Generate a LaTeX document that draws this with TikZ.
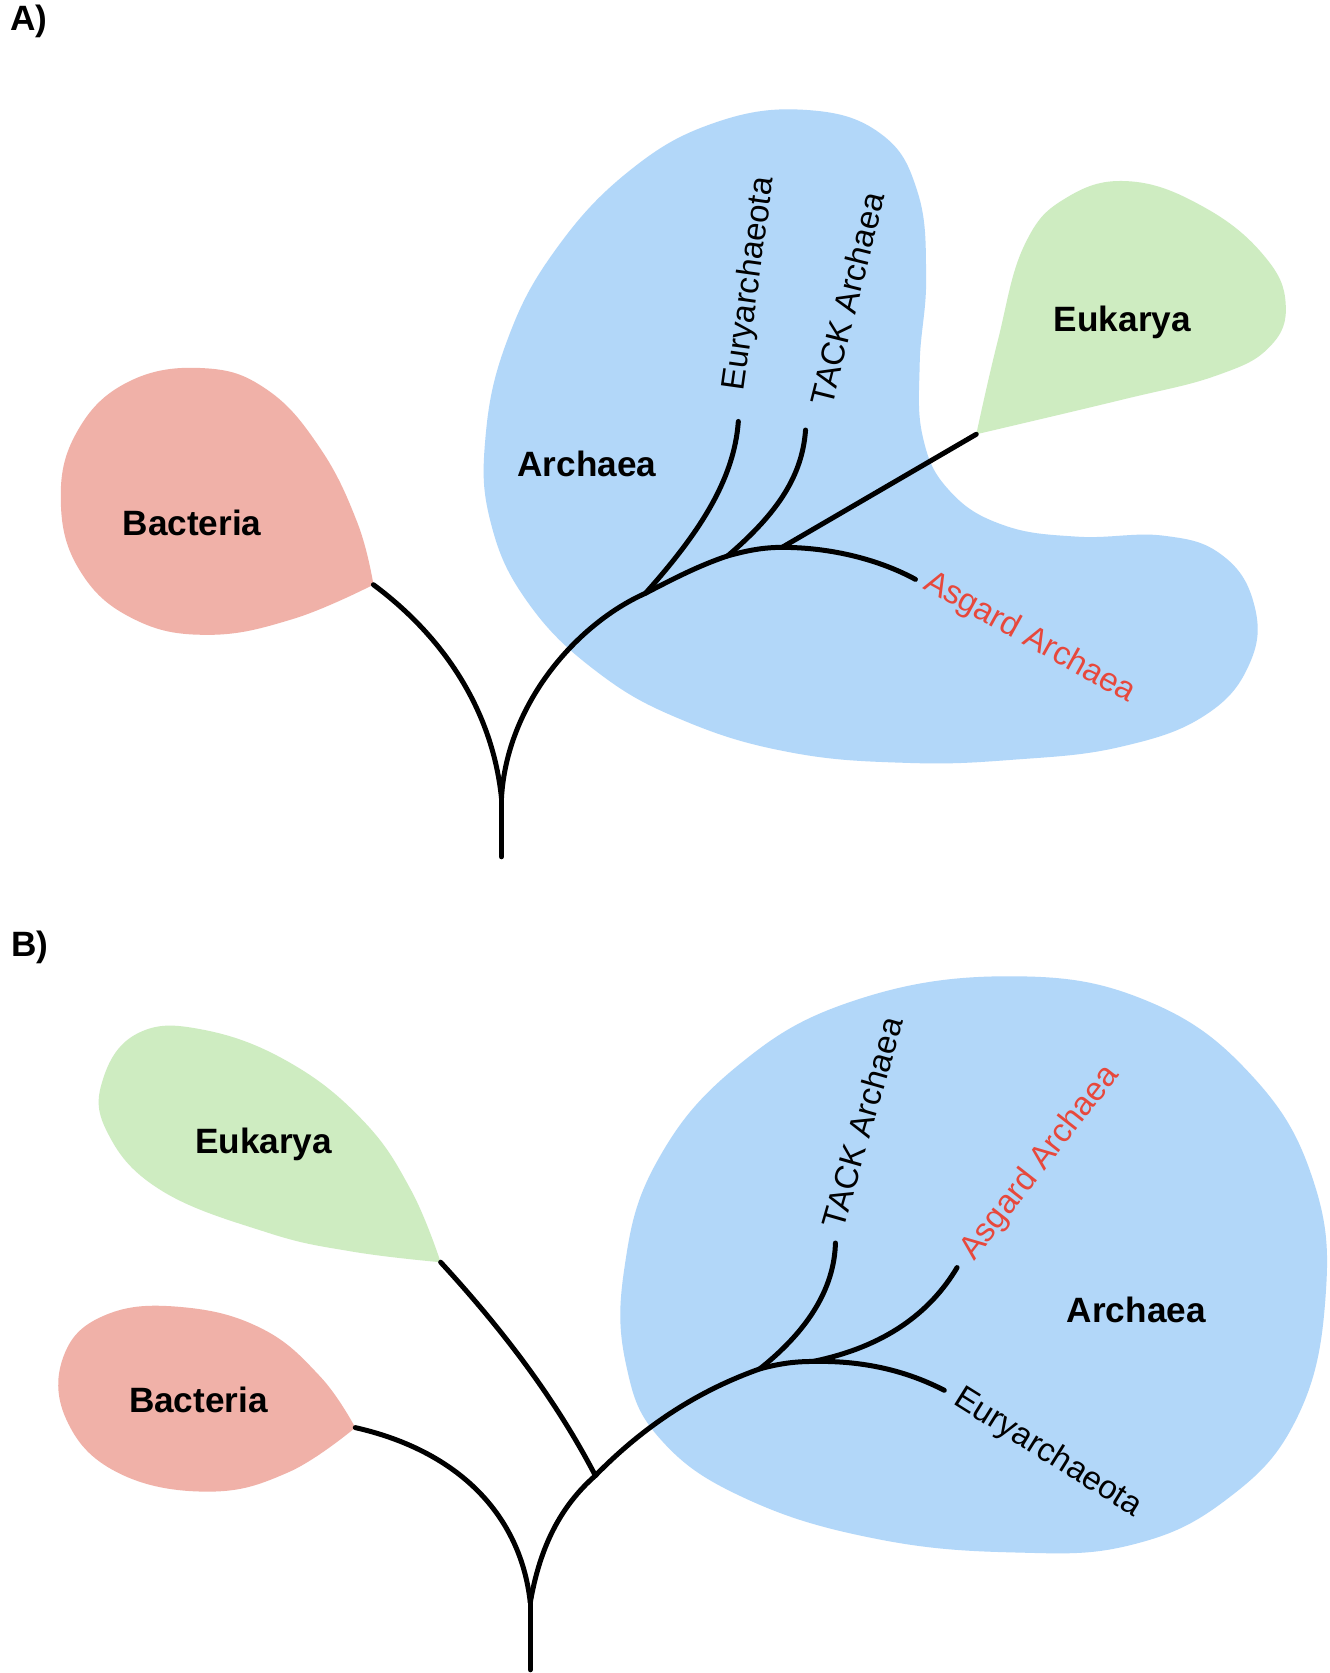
\documentclass[tikz,border=0pt]{standalone}
\usepackage{fontspec}
\setmainfont{Liberation Sans}
\definecolor{archblue}{RGB}{178,215,249}
\definecolor{eukgreen}{RGB}{206,236,193}
\definecolor{bacpink}{RGB}{240,177,168}
\definecolor{asgred}{RGB}{231,72,60}
\tikzset{
  branch/.style={line width=2.5pt, line cap=round},
  big/.style={font=\fontsize{17.6}{19}\selectfont\bfseries, inner sep=0pt},
  clade/.style={font=\fontsize{16.5}{18}\selectfont, inner sep=0pt},
  asg/.style={clade, text=asgred},
}
\begin{document}
\begin{tikzpicture}[x=0.5337pt,y=-0.5337pt]
\useasboundingbox (0,0) rectangle (1246,1568);
\fill[white] (0,0) rectangle (1246,1568);

%% ---------------- Panel A ----------------
\node[big] (labA) at (27,20) {A)};
\fill[archblue] plot[smooth cycle, tension=0.7] coordinates {
 (755,103) (825,125) (860,180) (868,260) (862,340) (865,410) (890,460)
 (940,492) (1010,503) (1090,502) (1145,520) (1175,565) (1172,620)
 (1130,670) (1050,700) (950,712) (850,715) (740,705) (640,675)
 (560,630) (495,565) (460,490) (455,410) (475,320) (520,235) (590,160) (670,115)};
\fill[eukgreen] plot[smooth, tension=0.7] coordinates {
 (915,407) (935,320) (960,230) (1000,185) (1060,170) (1130,195) (1185,240)
 (1205,285) (1190,325) (1140,352) (1050,375) (915,407)} -- cycle;
\fill[bacpink] plot[smooth, tension=0.7] coordinates {
 (350,548) (335,490) (300,420) (250,365) (190,345) (120,358) (72,405)
 (57,470) (75,535) (125,580) (195,595) (275,580) (350,548)} -- cycle;

\coordinate (rootA) at (470,803);
\coordinate (splitA) at (470,748);
\coordinate (bacTipA) at (350,548);
\coordinate (eurSplitA) at (605,556);
\coordinate (eurTipA) at (692,395);
\coordinate (tackSplitA) at (682,521);
\coordinate (tackTipA) at (755,403);
\coordinate (eukSplitA) at (733,513);
\coordinate (eukTipA) at (915,407);
\coordinate (asgTipA) at (858,543);

\draw[branch] (rootA) -- (splitA);
\draw[branch] (splitA) .. controls (462,670) and (420,600) .. (bacTipA);
\draw[branch] (splitA) .. controls (475,660) and (540,585) .. (eurSplitA)
  .. controls (630,543) and (655,530) .. (tackSplitA)
  .. controls (700,516) and (715,513) .. (eukSplitA)
  .. controls (780,513) and (825,525) .. (asgTipA);
\draw[branch] (eurSplitA) .. controls (655,500) and (688,450) .. (eurTipA);
\draw[branch] (tackSplitA) .. controls (730,480) and (752,445) .. (tackTipA);
\draw[branch] (eukSplitA) -- (eukTipA);

\node[big] (bacA) at (180,490) {Bacteria};
\node[big] (archA) at (550,435) {Archaea};
\node[big] (eukA) at (1052,302) {Eukarya};
\node[clade, rotate=82] (eurA) at (703,266) {Euryarchaeota};
\node[clade, rotate=76] (tackA) at (794,280) {TACK Archaea};
\node[asg, rotate=-29] (asgA) at (965,598) {Asgard Archaea};

%% ---------------- Panel B ----------------
\node[big] (labB) at (28,888) {B)};
\fill[archblue] plot[smooth cycle, tension=0.7] coordinates {
 (945,915) (1075,938) (1175,1010) (1232,1110) (1242,1220) (1215,1330)
 (1150,1405) (1060,1448) (950,1455) (820,1442) (700,1405) (620,1350)
 (587,1280) (585,1190) (615,1090) (690,1000) (800,938)};
\fill[eukgreen] plot[smooth, tension=0.7] coordinates {
 (413,1183) (385,1115) (340,1050) (270,995) (190,965) (130,968) (97,1010)
 (100,1060) (150,1115) (250,1155) (330,1173) (413,1183)} -- cycle;
\fill[bacpink] plot[smooth, tension=0.7] coordinates {
 (333,1338) (300,1290) (245,1245) (170,1225) (100,1232) (60,1270)
 (62,1330) (110,1380) (195,1398) (270,1380) (333,1338)} -- cycle;

\coordinate (rootB) at (497,1565);
\coordinate (splitB) at (497,1502);
\coordinate (bacTipB) at (333,1338);
\coordinate (eukSplitB) at (558,1383);
\coordinate (eukTipB) at (413,1183);
\coordinate (tackSplitB) at (712,1283);
\coordinate (tackTipB) at (783,1165);
\coordinate (asgSplitB) at (762,1276);
\coordinate (asgTipB) at (897,1188);
\coordinate (eurTipB) at (885,1303);

\draw[branch] (rootB) -- (splitB);
\draw[branch] (splitB) .. controls (488,1420) and (430,1360) .. (bacTipB);
\draw[branch] (splitB) .. controls (506,1450) and (525,1412) .. (eukSplitB)
  .. controls (600,1340) and (650,1305) .. (tackSplitB)
  .. controls (730,1278) and (745,1276) .. (asgSplitB)
  .. controls (810,1275) and (850,1285) .. (eurTipB);
\draw[branch] (eukSplitB) .. controls (520,1310) and (470,1245) .. (eukTipB);
\draw[branch] (tackSplitB) .. controls (760,1245) and (782,1205) .. (tackTipB);
\draw[branch] (asgSplitB) .. controls (830,1262) and (872,1230) .. (asgTipB);

\node[big] (eukB) at (247,1073) {Eukarya};
\node[big] (bacB) at (186,1312) {Bacteria};
\node[big] (archB) at (1065,1228) {Archaea};
\node[clade, rotate=74] (tackB) at (808,1052) {TACK Archaea};
\node[asg, rotate=52] (asgB) at (975,1090) {Asgard Archaea};
\node[clade, rotate=-32] (eurB) at (982,1362) {Euryarchaeota};
\end{tikzpicture}
\end{document}
